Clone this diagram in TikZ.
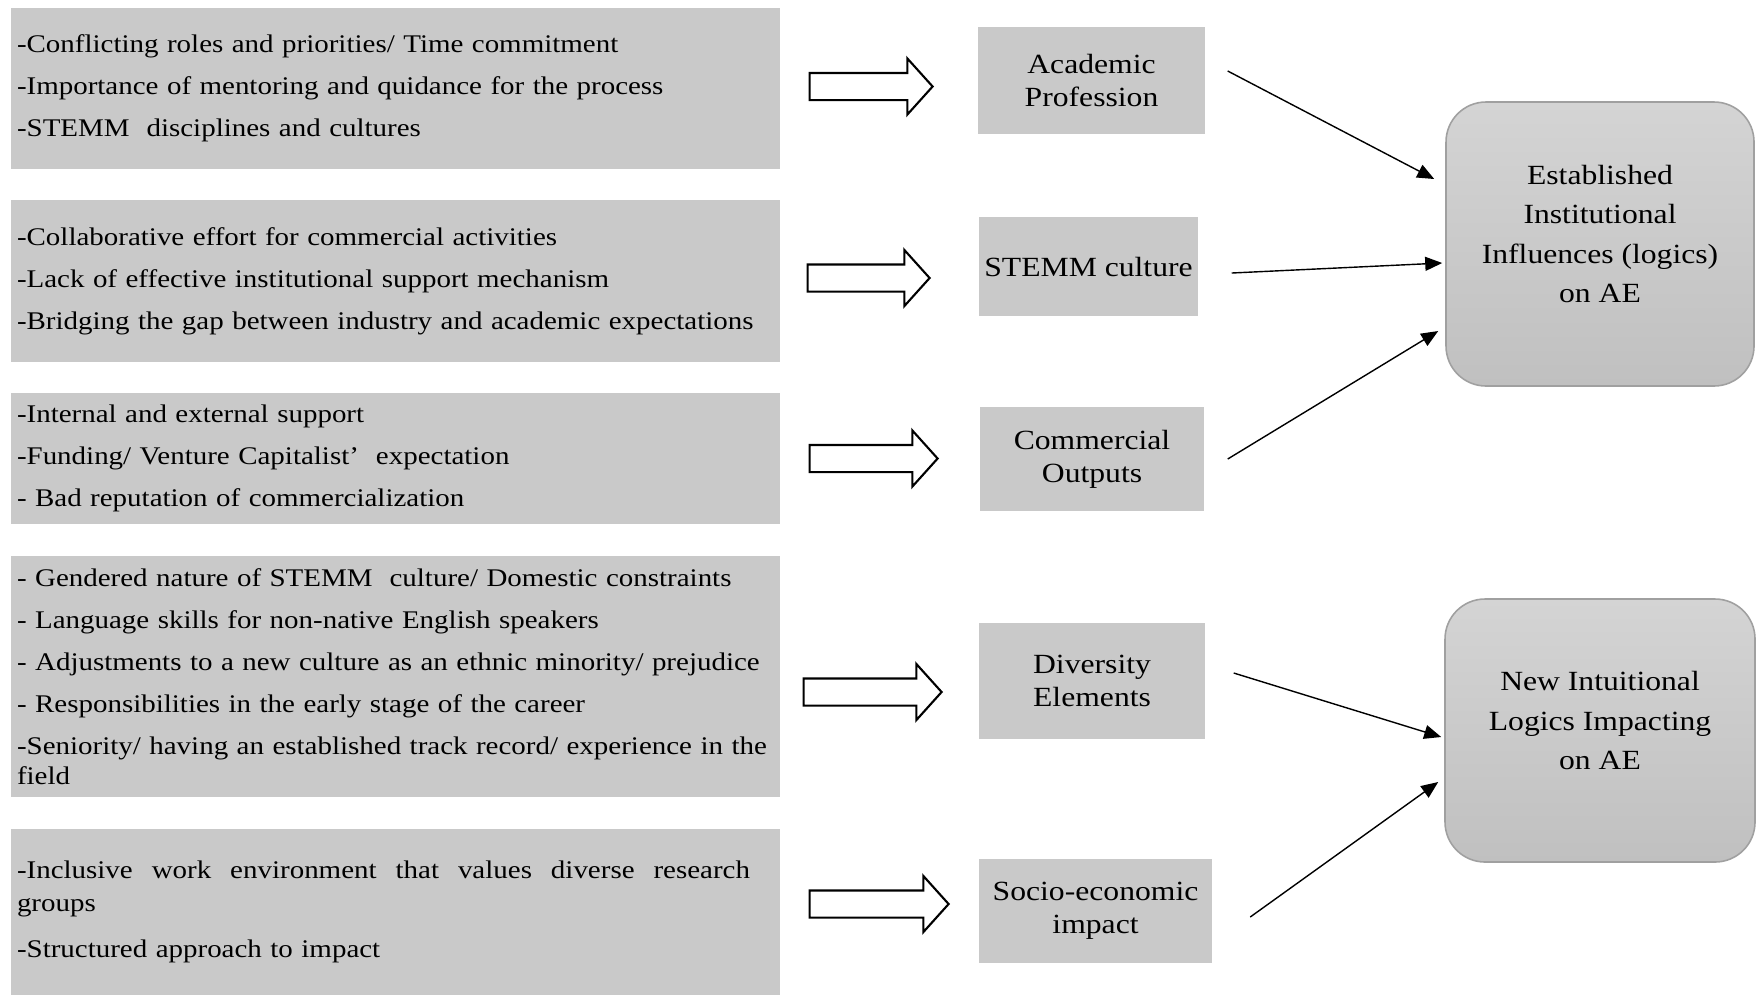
\documentclass[tikz,border=0pt]{standalone}
\usepackage{fontspec}
\setmainfont{Liberation Serif}[FakeStretch=1.14]
\usepackage{tikz}
\usetikzlibrary{
  shapes.arrows,
  arrows.meta,
  positioning
}
\definecolor{BoxGray}   {RGB}{201, 201, 201}
\definecolor{TopGray}   {RGB}{212, 212, 212}
\definecolor{BottomGray}{RGB}{192, 192, 192}
\definecolor{EdgeGray}  {RGB}{160, 160, 160}

\begin{document}
\begin{tikzpicture}[
  factor/.style={
    fill=BoxGray,
    text width=7.57cm,
    inner xsep=0.06cm, inner ysep=0pt,
    align=left,
    font=\fontsize{7.23}{8.5}\selectfont
  },
  element/.style={
    fill=BoxGray,
    inner sep=0pt,
    align=center,
    font=\fontsize{7.9}{9.4}\selectfont
  },
  logic/.style={
    draw=EdgeGray, line width=0.45pt,
    top color=TopGray, bottom color=BottomGray,
    rounded corners=0.4cm,
    align=center, text depth=0.2cm,
    font=\fontsize{7.9}{11.2}\selectfont
  },
  block/.style={
    single arrow, draw=black, fill=white,
    line width=0.6pt,
    inner xsep=0pt, inner ysep=0.125cm,
    single arrow head extend=0.145cm,
    single arrow tip angle=96
  },
  link/.style={
    -{Triangle[length=0.17cm, width=0.14cm]},
    line width=0.4pt}
]
\useasboundingbox (0,0) rectangle (17.56,-9.95);

% factors on the left
\node[factor, minimum height=1.61cm] (f1) at (3.955,-0.885)
  {-Conflicting roles and priorities/ Time commitment\\[3.45pt]
   -Importance of mentoring and quidance for the process\\[3.45pt]
   -STEMM\ \ disciplines and cultures};
\node[factor, minimum height=1.62cm] (f2) at (3.955,-2.81)
  {-Collaborative effort for commercial activities\\[3.45pt]
   -Lack of effective institutional support mechanism\\[3.45pt]
   -Bridging the gap between industry and academic expectations};
\node[factor, minimum height=1.31cm] (f3) at (3.955,-4.585)
  {-Internal and external support\\[3.45pt]
   -Funding/ Venture Capitalist’\ \ expectation\\[3.45pt]
   - Bad reputation of commercialization};
\node[factor, minimum height=2.41cm] (f4) at (3.955,-6.765)
  {- Gendered nature of STEMM\ \ culture/ Domestic constraints\\[3.45pt]
   - Language skills for non-native English speakers\\[3.45pt]
   - Adjustments to a new culture as an ethnic minority/ prejudice\\[3.45pt]
   - Responsibilities in the early stage of the career\\[3.45pt]
   -Seniority/ having an established track record/ experience in the\\
   field};
\node[factor, minimum height=1.66cm,
  font=\fontsize{7.23}{9.5}\selectfont] (f5) at (3.955,-9.12)
  {\makebox[7.33cm][s]{-Inclusive\hfill work\hfill environment\hfill that\hfill
   values\hfill diverse\hfill research}\\
   groups\\[3.5pt]
   -Structured approach to impact};

% hollow arrows
\node[block, minimum height=1.23cm] (b1) at (8.65,-0.865) {};
\node[block, minimum height=1.22cm] (b2) at (8.625,-2.78) {};
\node[block, minimum height=1.28cm] (b3) at (8.675,-4.585) {};
\node[block, minimum height=1.38cm] (b4) at (8.665,-6.92) {};
\node[block, minimum height=1.39cm] (b5) at (8.73,-9.04) {};

% elements
\node[element, minimum width=2.27cm, minimum height=1.07cm] (acad) at (10.915,-0.805)
  {Academic\\Profession};
\node[element, minimum width=2.19cm, minimum height=0.99cm] (stemm) at (10.885,-2.665)
  {STEMM culture};
\node[element, minimum width=2.24cm, minimum height=1.04cm] (comm) at (10.92,-4.59)
  {Commercial\\Outputs};
\node[element, minimum width=2.26cm, minimum height=1.16cm] (div) at (10.92,-6.81)
  {Diversity\\Elements};
\node[element, minimum width=2.33cm, minimum height=1.04cm] (socio) at (10.955,-9.11)
  {Socio-economic\\impact};

% logics
\node[logic, minimum width=3.08cm, minimum height=2.84cm] (est) at (16.0,-2.44)
  {Established\\Institutional\\Influences (logics)\\on AE};
\node[logic, minimum width=3.1cm, minimum height=2.63cm] (new) at (16.0,-7.305)
  {New Intuitional\\Logics Impacting\\on AE};

\draw[link] ([xshift=0.22cm, yshift=0.095cm]acad.east) --
  ([xshift=-0.11cm, yshift=0.65cm]est.west);
\draw[link] ([xshift=0.33cm, yshift=-0.065cm]stemm.east) --
  ([xshift=-0.03cm, yshift=-0.19cm]est.west);
\draw[link] ([xshift=0.23cm]comm.east) --
  ([xshift=-0.07cm, yshift=-0.87cm]est.west);
\draw[link] ([xshift=0.28cm, yshift=0.08cm]div.east) --
  ([xshift=-0.03cm, yshift=-0.065cm]new.west);
\draw[link] ([xshift=0.375cm, yshift=-0.06cm]socio.east) --
  ([xshift=-0.06cm, yshift=-0.515cm]new.west);
\end{tikzpicture}
\end{document}
